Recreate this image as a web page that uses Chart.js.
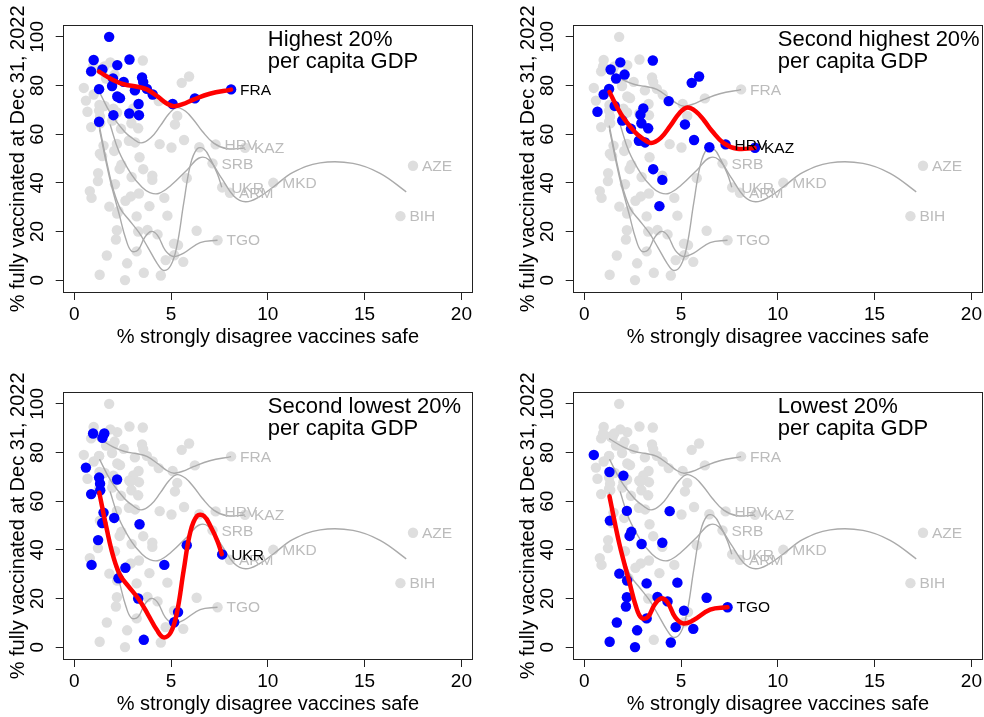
<!DOCTYPE html>
<html>
<head>
<meta charset="utf-8">
<script src="https://cdn.jsdelivr.net/npm/chart.js@4.4.1/dist/chart.umd.min.js"></script>
<style>
    html, body { margin: 0; padding: 0; background: #fff; overflow: hidden; }
    #wrap { position: relative; width: 984px; height: 717px; overflow: hidden; }
</style>
</head>
<body>
<div id="wrap"></div>
<script>
// --- DATA (x = % strongly disagree vaccines safe, y = % fully vaccinated) ---
// third item = country code label
const groupHighest = [
    [1.8, 100], [1.0, 90.5], [2.85, 90.7], [0.87, 85.8], [1.45, 86.6], [2.22, 88.4],
    [2.0, 82.9], [2.55, 81.5], [3.5, 83.3], [3.56, 81.4], [1.28, 78.5], [1.95, 79.8],
    [3.13, 78.0], [3.75, 78.6], [4.05, 76.3], [2.22, 75.5], [2.36, 74.8], [3.32, 72.4],
    [2.02, 67.8], [2.84, 68.5], [3.34, 67.8], [1.28, 65.1], [5.08, 72.4], [6.23, 74.7],
    [8.1, 78.4, 'FRA'],
];
const groupSecondHighest = [
    [1.86, 89.5], [3.54, 90.3], [1.36, 86.6], [2.08, 84.5], [1.64, 82.9], [5.93, 83.7],
    [5.55, 81.1], [1.28, 78.6], [1.0, 76.3], [1.57, 71.6], [0.68, 69.2], [3.05, 70.6],
    [2.9, 68.0], [4.36, 73.6], [1.96, 65.6], [2.95, 64.5], [2.41, 62.2], [3.3, 62.4],
    [2.82, 57.3], [3.14, 56.6], [5.2, 64.0], [5.67, 57.6], [6.46, 54.6],
    [7.3, 55.8, 'HRV'], [8.82, 54.4, 'KAZ'], [3.56, 45.6], [4.03, 41.2], [3.88, 30.4],
];
const groupMiddle = [
    [7.14, 48.0, 'SRB'], [8.04, 35.9, 'ARM'], [10.28, 40.0, 'MKD'], [17.5, 47.0, 'AZE'],
    [16.85, 26.3, 'BIH'], [5.02, 54.5], [5.32, 67.5], [1.22, 40.7], [0.8, 36.6],
    [2.92, 34.4], [3.34, 35.6], [2.1, 39.4],
];
const groupSecondLowest = [
    [0.97, 87.8], [1.55, 87.8], [1.45, 86.0], [0.6, 73.8], [1.28, 69.7], [1.33, 67.2],
    [2.21, 68.9], [1.34, 64.5], [0.87, 62.9], [1.51, 55.3], [2.06, 53.1], [1.44, 51.0],
    [3.37, 50.5], [1.23, 44.0], [5.81, 41.9], [7.64, 38.1, 'UKR'], [0.89, 33.8],
    [2.64, 32.6], [4.65, 33.8], [2.28, 28.3], [3.3, 20.0], [5.36, 14.4], [5.16, 10.2],
    [3.59, 3.0],
];
const groupLowest = [
    [0.49, 79.0], [1.3, 72.0], [2.02, 70.5], [2.2, 56.0], [4.41, 55.9], [1.32, 52.0],
    [2.43, 47.4], [2.34, 45.7], [2.96, 42.4], [4.03, 42.9], [1.81, 30.2], [2.21, 27.4],
    [3.22, 26.2], [4.81, 26.5], [2.2, 20.5], [2.15, 16.7], [3.78, 20.6], [4.3, 18.8],
    [6.32, 20.3], [7.4, 16.4, 'TGO'], [5.15, 15.0], [3.22, 11.8], [1.68, 10.1],
    [2.73, 6.9], [4.72, 8.2], [5.63, 7.5], [1.31, 2.2], [2.62, 0.0], [4.47, 1.9],
];

// smoothed trend per group
const smoothHighest = [
    [1.28, 85.7], [2.0, 82.3], [2.6, 80.4], [3.25, 79.5], [3.75, 78.4], [4.3, 75.5],
    [4.8, 72.5], [5.15, 71.5], [5.6, 72.3], [6.15, 74.2], [7.0, 76.6], [8.1, 78.3],
];
const smoothSecondHighest = [
    [1.3, 77.3], [1.9, 68.2], [2.6, 61.0], [3.0, 58.3], [3.45, 56.4], [3.95, 58.5],
    [4.45, 63.5], [4.9, 68.5], [5.3, 70.9], [5.75, 69.4], [6.2, 65.5], [6.6, 61.3],
    [7.2, 56.3], [7.9, 54.0], [8.8, 54.3],
];
const smoothMiddle = [
    [1.85, 64.0], [2.3, 53.0], [2.95, 43.5], [3.5, 38.2], [3.9, 36.0], [4.35, 35.6],
    [5.0, 39.0], [5.85, 45.5], [6.45, 50.2], [6.95, 49.5], [7.6, 42.0], [8.25, 34.5],
    [8.85, 32.2], [9.55, 34.2], [10.3, 38.4], [11.3, 44.3], [12.7, 48.2], [14.4, 48.0],
    [15.8, 43.9], [17.15, 36.3],
];
const smoothSecondLowest = [
    [1.29, 63.5], [1.69, 48.0], [2.03, 36.8], [2.38, 29.4], [2.8, 25.0], [3.32, 19.8],
    [3.8, 13.5], [4.27, 7.0], [4.61, 4.0], [4.98, 6.0], [5.3, 14.0], [5.65, 31.5],
    [6.0, 47.5], [6.35, 54.0], [6.7, 53.9], [7.05, 49.5], [7.4, 43.5], [7.62, 38.2],
];
const smoothLowest = [
    [1.3, 62.0], [1.81, 42.5], [2.33, 26.7], [2.67, 16.7], [2.95, 12.0], [3.29, 12.4],
    [3.62, 17.3], [3.96, 20.0], [4.3, 18.4], [4.7, 12.2], [5.12, 9.7], [5.63, 11.0],
    [6.5, 15.4], [7.4, 16.4],
];

const xTicks = [0, 5, 10, 15, 20];
const yTicks = [0, 20, 40, 60, 80, 100];

const panelTitles = [
    ['Highest 20%', 'per capita GDP'],
    ['Second highest 20%', 'per capita GDP'],
    ['Second lowest 20%', 'per capita GDP'],
    ['Lowest 20%', 'per capita GDP'],
];
const panelGroups = [groupHighest, groupSecondHighest, groupSecondLowest, groupLowest];
const panelSmooths = [smoothHighest, smoothSecondHighest, smoothSecondLowest, smoothLowest];
const allGroups = [groupHighest, groupSecondHighest, groupMiddle, groupSecondLowest, groupLowest];
const allSmooths = [smoothHighest, smoothSecondHighest, smoothMiddle, smoothSecondLowest, smoothLowest];

// --- STYLE ---
const FONT = '"Liberation Sans", Arial, Helvetica, sans-serif';
const GREY_DOT = '#dedede';
const GREY_LINE = '#aaaaaa';
const GREY_TEXT = '#bcbcbc';
const toXY = (list) => list.map(p => ({ x: p[0], y: p[1] }));

// box, country labels and the panel caption
const panelDecor = {
    id: 'panelDecor',
    afterDatasetsDraw(chart, args, opts) {
        const { ctx, chartArea: a, scales: { x, y } } = chart;
        ctx.save();
        ctx.font = `15.5px ${FONT}`;
        ctx.textAlign = 'left';
        ctx.textBaseline = 'middle';
        allGroups.forEach(group => {
            group.filter(p => p[2]).forEach(p => {
                ctx.fillStyle = group === opts.group ? '#000' : GREY_TEXT;
                ctx.fillText(p[2], x.getPixelForValue(p[0]) + 9, y.getPixelForValue(p[1]) + 1);
            });
        });

        ctx.fillStyle = '#000';
        ctx.font = `22px ${FONT}`;
        const tx = x.getPixelForValue(10);
        ctx.fillText(opts.title[0], tx, a.top + 15.5);
        ctx.fillText(opts.title[1], tx, a.top + 37.5);

        ctx.strokeStyle = '#222';
        ctx.lineWidth = 1;
        ctx.strokeRect(Math.round(a.left) + 0.5, Math.round(a.top) + 0.5,
            Math.round(a.width) - 1, Math.round(a.height) - 1);
        ctx.restore();
    }
};

function buildConfig(i) {
    const datasets = [];
    datasets.push({
        data: toXY(allGroups.flat()),
        pointRadius: 5.2, pointBorderWidth: 0,
        pointBackgroundColor: GREY_DOT, order: 10,
    });
    allSmooths.forEach(s => datasets.push({
        data: toXY(s), showLine: true, pointRadius: 0,
        borderColor: GREY_LINE, borderWidth: 1.4, tension: 0.4, order: 9,
    }));
    datasets.push({
        data: toXY(panelGroups[i]),
        pointRadius: 5.2, pointBorderWidth: 0,
        pointBackgroundColor: '#0000ff', order: 2,
    });
    datasets.push({
        data: toXY(panelSmooths[i]), showLine: true, pointRadius: 0,
        borderColor: '#ff0000', borderWidth: 4.5, tension: 0.4,
        borderCapStyle: 'round', order: 1,
    });

    const tickFont = { family: FONT, size: 19 };
    const titleFont = { family: FONT, size: 20 };
    const grid = { drawOnChartArea: false, drawTicks: true, tickLength: 7, color: '#222' };

    return {
        type: 'scatter',
        data: { datasets },
        options: {
            responsive: false,
            devicePixelRatio: 1,
            animation: false,
            events: [],
            layout: { padding: { top: 24.7, right: 19, bottom: 0, left: 0 } },
            plugins: {
                legend: { display: false },
                tooltip: { enabled: false },
                panelDecor: { group: panelGroups[i], title: panelTitles[i] },
            },
            scales: {
                x: {
                    type: 'linear', min: -0.6, max: 20.6,
                    afterBuildTicks: s => { s.ticks = xTicks.map(v => ({ value: v })); },
                    ticks: { color: '#000', font: tickFont, padding: 3, maxRotation: 0 },
                    grid, border: { display: false },
                    title: {
                        display: true, text: '% strongly disagree vaccines safe',
                        color: '#000', font: titleFont, padding: { top: 0, bottom: 11 },
                    },
                    afterFit: s => { s.height = 67; },
                },
                y: {
                    type: 'linear', min: -5.3, max: 105,
                    afterBuildTicks: s => { s.ticks = yTicks.map(v => ({ value: v })); },
                    ticks: {
                        color: '#000', font: tickFont, padding: 2,
                        minRotation: 90, maxRotation: 90, crossAlign: 'center',
                    },
                    grid, border: { display: false },
                    title: {
                        display: true, text: '% fully vaccinated at Dec 31, 2022',
                        color: '#000', font: titleFont, padding: { top: 6, bottom: 0 },
                    },
                    afterFit: s => { s.width = 62.7; },
                },
            },
        },
        plugins: [panelDecor],
    };
}

// --- RENDER ---
const panelPos = [[0, 0], [510, 0], [0, 367], [510, 367]];
const wrap = document.getElementById('wrap');
panelPos.forEach(([left, top], i) => {
    const canvas = document.createElement('canvas');
    canvas.width = 492;
    canvas.height = 360;
    canvas.style.cssText = `position:absolute;left:${left}px;top:${top}px;width:492px;height:360px;`;
    wrap.appendChild(canvas);
    new Chart(canvas, buildConfig(i));
});
</script>
</body>
</html>
